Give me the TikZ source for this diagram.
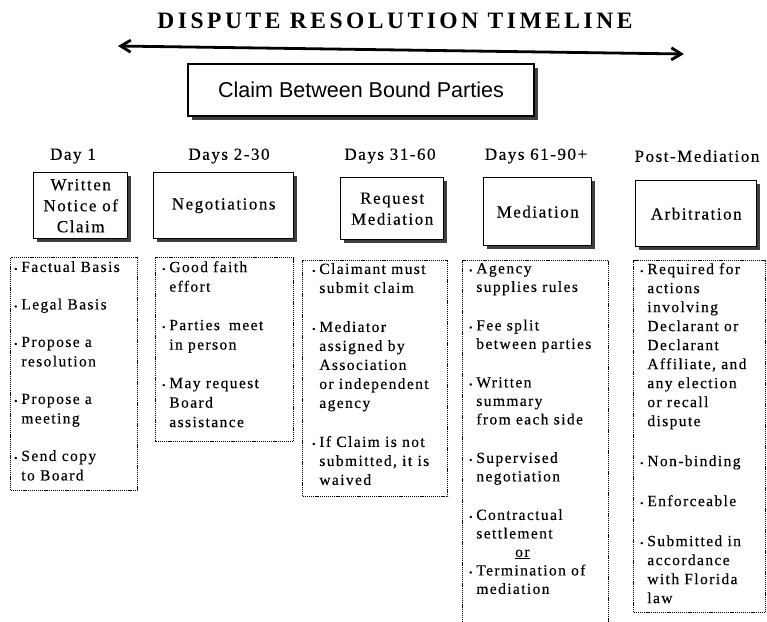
\documentclass[tikz,border=0pt]{standalone}
\usepackage{fontspec}
\usetikzlibrary{arrows.meta,shadows}
\setmainfont{Liberation Serif}
\newfontfamily\bodyfont{Liberation Serif}[LetterSpace=9,FakeBold=0.3]
\newfontfamily\headfont{Liberation Serif}[LetterSpace=9,FakeBold=0.3]
\newfontfamily\titlefont{Liberation Serif}[LetterSpace=15]
\newfontfamily\claimfont{Liberation Sans}
\newcommand\bul{{\fontsize{9}{9}\selectfont\textbullet}\hspace{4pt}}
\newcommand\cnt{\phantom{\bul}}

\begin{document}
\begin{tikzpicture}[x=1pt,y=-1pt,>={Straight Barb[length=10pt,width=12pt]},
  every node/.style={inner sep=0pt},
  shade/.style={drop shadow={shadow xshift=3.5pt,shadow yshift=-3.5pt,fill=black!75,opacity=1}},
  stagebox/.style={draw,line width=1.4pt,fill=white,align=center,anchor=north west,shade,
    font=\headfont\fontsize{17}{21}\selectfont},
  dayhead/.style={font=\headfont\fontsize{17}{20}\selectfont},
  listbox/.style={draw,dash pattern=on 1.2pt off 0.9pt,line width=1.4pt,anchor=north west},
  listtext/.style={anchor=north west,align=left}]
\useasboundingbox (0,0) rectangle (767,621);

\node[font=\titlefont\bfseries\fontsize{23.5}{27}\selectfont] (title) at (395,21) {DISPUTE RESOLUTION TIMELINE};
\coordinate (tl) at (118,46); \coordinate (tr) at (684,54);
\draw[<->,line width=2.8pt] (tl) -- (tr);
\node[draw,line width=1.4pt,fill=white,shade,minimum width=346,minimum height=52,
  font=\claimfont\fontsize{21.5}{24}\selectfont] (claim) at (361,90) {Claim Between Bound Parties};

% day headings
\node[dayhead] (d1) at (73,156) {Day 1};
\node[dayhead] (d2) at (229,156) {Days 2-30};
\node[dayhead] (d3) at (390,156) {Days 31-60};
\node[dayhead] (d4) at (536,156) {Days 61-90+};
\node[dayhead] (d5) at (697,156) {Post-Mediation};

% stages
\node[stagebox,minimum width=94,minimum height=66] (notice) at (33,172) {Written\\Notice of\\Claim};
\node[stagebox,minimum width=140,minimum height=66] (negot) at (153,172) {Negotiations};
\node[stagebox,minimum width=103,minimum height=62] (reqmed) at (340,177) {Request\\Mediation};
\node[stagebox,minimum width=108,minimum height=68] (mediat) at (483,177) {Mediation};
\node[stagebox,minimum width=121,minimum height=66] (arbit) at (635,180) {Arbitration};

% what happens in each stage
\node[listbox,minimum width=127,minimum height=233] (noticebox) at (10,257) {};
\node[listtext,font=\bodyfont\fontsize{15.5}{19.5}\selectfont] (noticelist) at (14,261) {\bul Factual Basis\\[18pt]\bul Legal Basis\\[18pt]\bul Propose a\\\cnt resolution\\[18pt]\bul Propose a\\\cnt meeting\\[18pt]\bul Send copy\\\cnt to Board};
\node[listbox,minimum width=138,minimum height=184] (negotbox) at (155,257) {};
\node[listtext,font=\bodyfont\fontsize{15.5}{19.5}\selectfont] (negotlist) at (162,261) {\bul Good faith\\\cnt effort\\[19pt]\bul Parties\hspace{9pt}meet\\\cnt in person\\[19pt]\bul May request\\\cnt Board\\\cnt assistance};
\node[listbox,minimum width=145,minimum height=236] (reqmedbox) at (302,260) {};
\node[listtext,font=\bodyfont\fontsize{15.5}{19}\selectfont] (reqmedlist) at (312,263) {\bul Claimant must\\\cnt submit claim\\[20pt]\bul Mediator\\\cnt assigned by\\\cnt Association\\\cnt or independent\\\cnt agency\\[20pt]\bul If Claim is not\\\cnt submitted, it is\\\cnt waived};
\node[listbox,minimum width=146,minimum height=364] (mediatbox) at (462,260) {};
\node[listtext,font=\bodyfont\fontsize{15.5}{18.5}\selectfont] (mediatlist) at (469,263) {\bul Agency\\\cnt supplies rules\\[20pt]\bul Fee split\\\cnt between parties\\[20pt]\bul Written\\\cnt summary\\\cnt from each side\\[20pt]\bul Supervised\\\cnt negotiation\\[20pt]\bul Contractual\\\cnt settlement\\\hspace*{46pt}\underline{or}\\\bul Termination of\\\cnt mediation};
\node[listbox,minimum width=132,minimum height=352] (arbitbox) at (633,260) {};
\node[listtext,font=\bodyfont\fontsize{15.5}{19}\selectfont] (arbitlist) at (640,263) {\bul Required for\\\cnt actions\\\cnt involving\\\cnt Declarant or\\\cnt Declarant\\\cnt Affiliate, and\\\cnt any election\\\cnt or recall\\\cnt dispute\\[21pt]\bul Non-binding\\[21pt]\bul Enforceable\\[21pt]\bul Submitted in\\\cnt accordance\\\cnt with Florida\\\cnt law};
\end{tikzpicture}
\end{document}
